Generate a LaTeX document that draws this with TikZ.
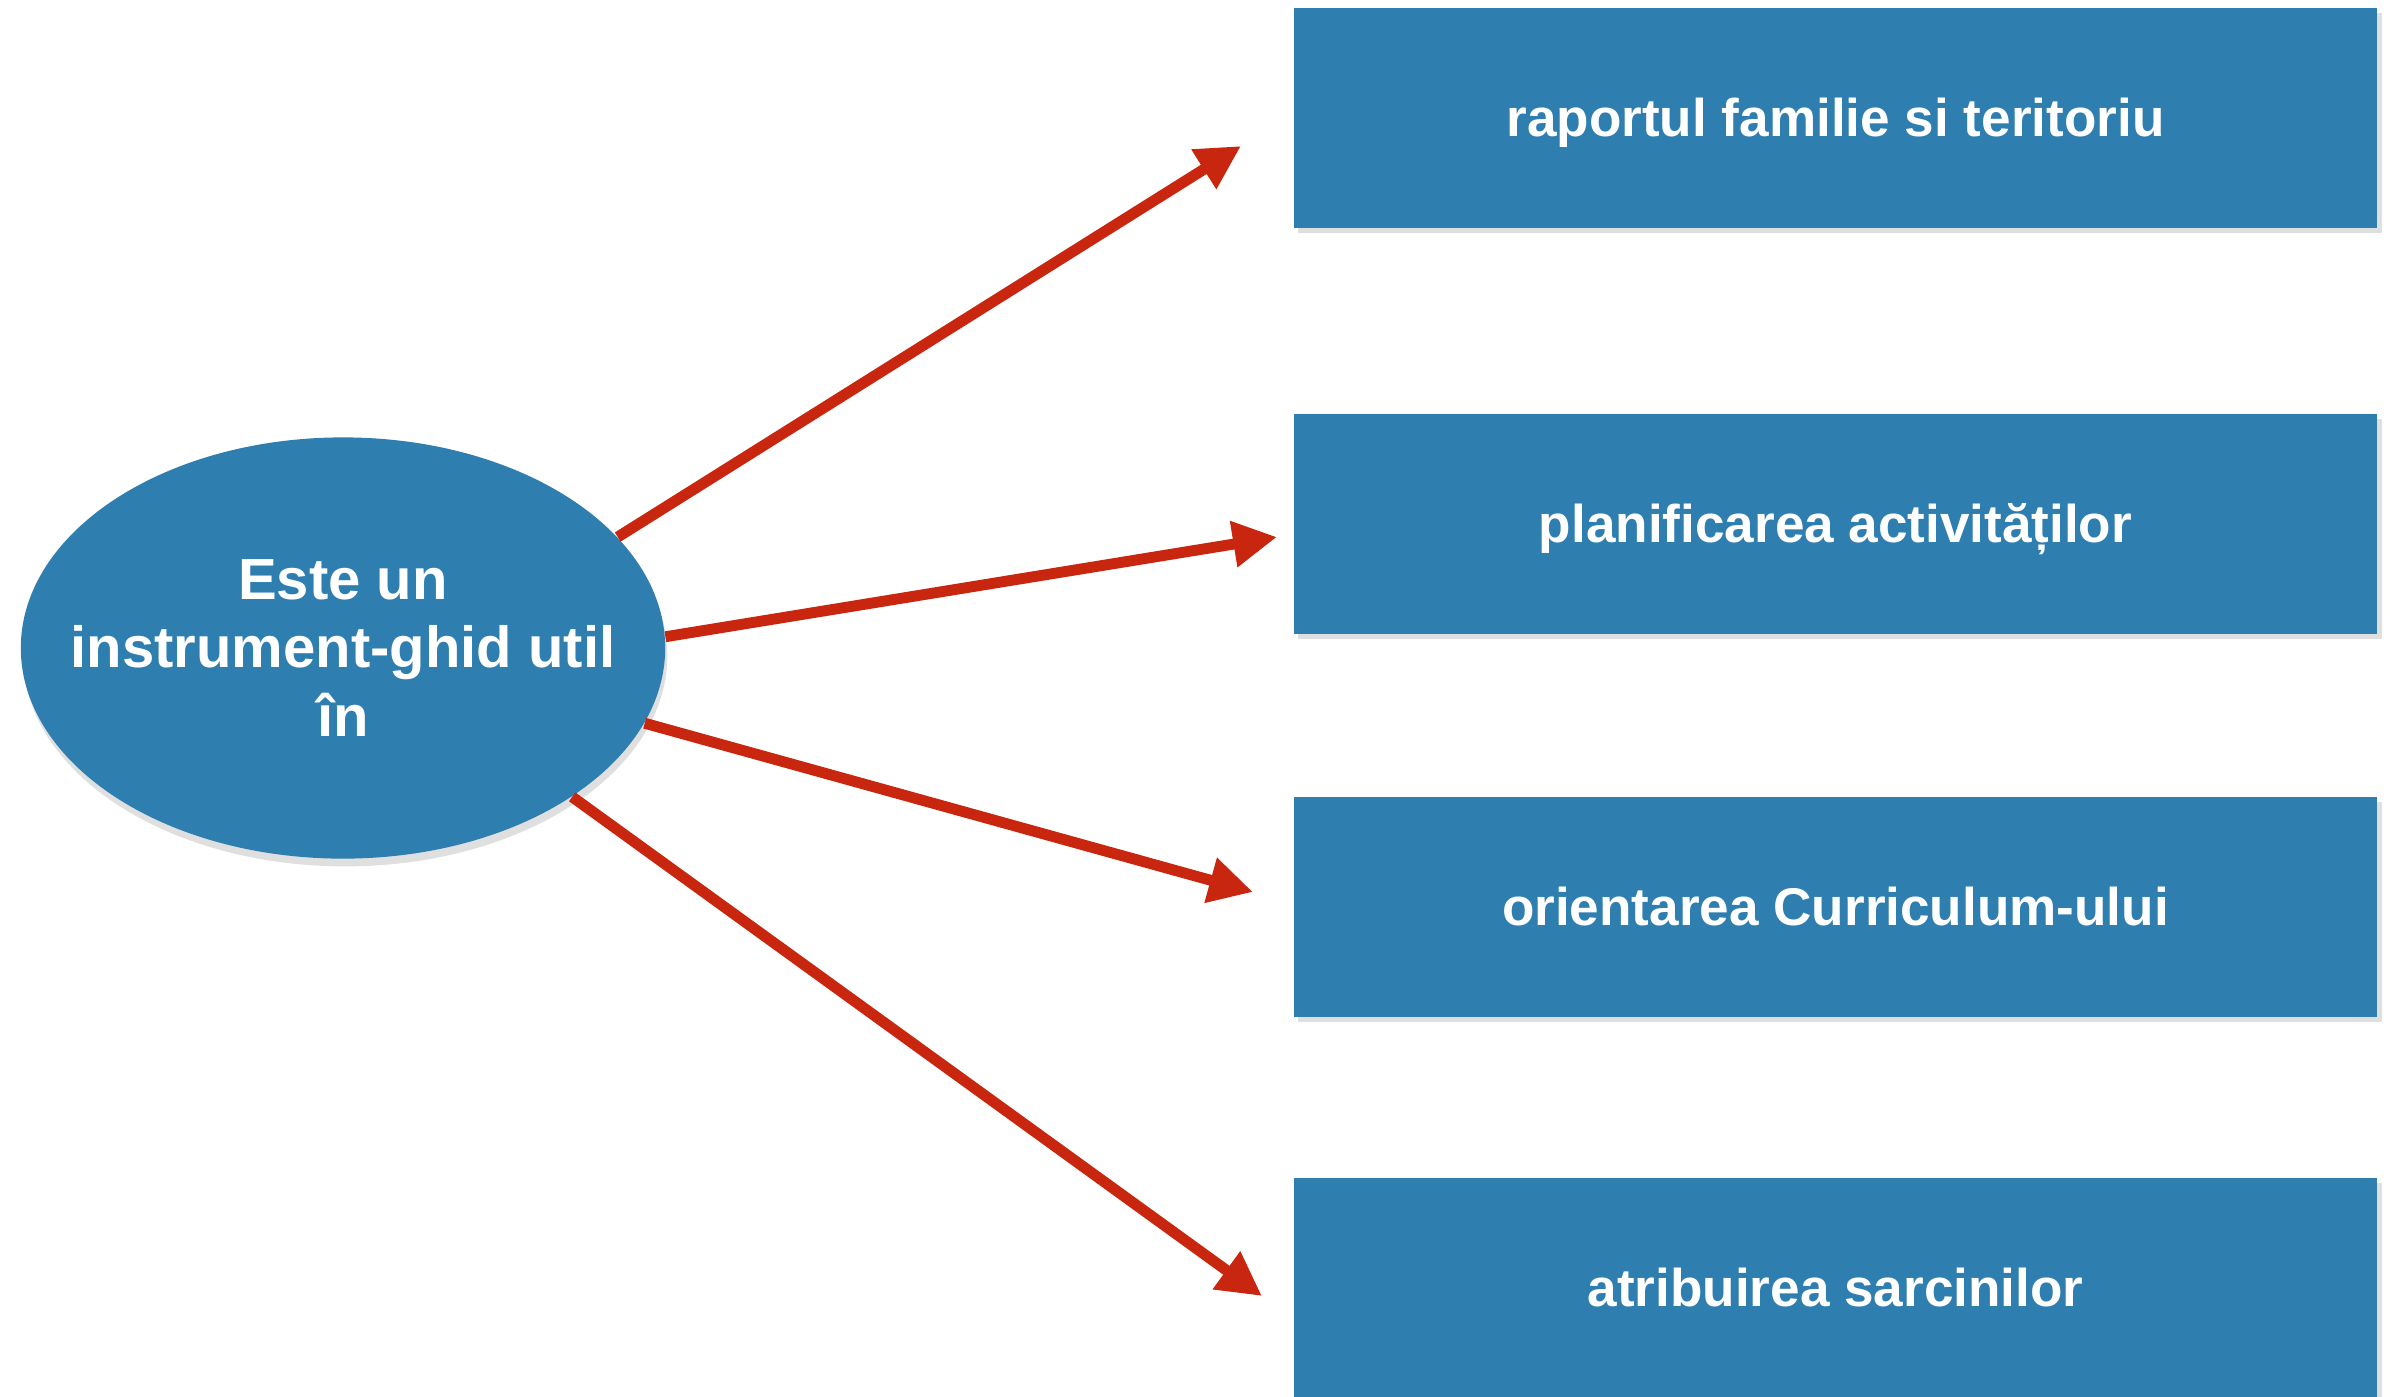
\documentclass[tikz,border=0pt]{standalone}
\usepackage{fontspec}
\setmainfont{Liberation Sans}
\usetikzlibrary{arrows.meta,shadows,shapes.geometric}
\definecolor{boxblue}{RGB}{46,126,176}
\definecolor{arrowred}{RGB}{200,38,14}
\tikzset{
  topicbox/.style={rectangle, fill=boxblue, draw=none, minimum width=10.83cm, minimum height=2.2cm, anchor=north west, inner sep=0pt,
    text=white, font=\fontsize{15.1}{18}\selectfont\bfseries, text height=10.5pt, text depth=0pt,
    drop shadow={opacity=0.25, shadow xshift=1.2pt, shadow yshift=-1.6pt}},
  hub/.style={ellipse, fill=boxblue, draw=none, minimum width=6.44cm, minimum height=4.21cm, inner sep=0pt,
    drop shadow={opacity=0.25, shadow xshift=0.6pt, shadow yshift=-2.2pt}},
  hubtext/.style={text=white, align=center, inner sep=0pt, font=\fontsize{16.5}{19.6}\selectfont\bfseries},
  link/.style={draw=arrowred, line width=3.1pt, -{Triangle[length=12.5pt,width=12.5pt]}}
}
\begin{document}
\begin{tikzpicture}[x=0.01cm,y=-0.01cm]
\useasboundingbox (0,0) rectangle (2390,1396);
\node[hub] (e) at (343,648) {};
\node[hubtext] (et) at (e.center) {Este un\\instrument-ghid util\\în};
\node[topicbox] (b1) at (1293,7) {raportul familie si teritoriu};
\node[topicbox] (b2) at (1293,413) {planificarea activităților};
\node[topicbox] (b3) at (1293,796) {orientarea Curriculum-ului};
\node[topicbox] (b4) at (1293,1177) {atribuirea sarcinilor};
\coordinate (t1) at (1241,146);
\coordinate (t2) at (1277,537);
\coordinate (t3) at (1253,892);
\coordinate (t4) at (1262,1296);
\draw[link] (e.22.3) -- (t1);
\draw[link] (e.2) -- (t2);
\draw[link] (e.-14.4) -- (t3);
\draw[link] (e.-33.1) -- (t4);
\end{tikzpicture}
\end{document}
